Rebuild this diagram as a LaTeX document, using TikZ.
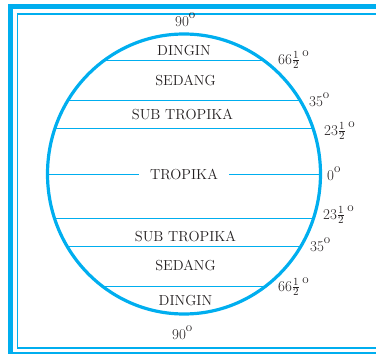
\documentclass[tikz,border=0pt]{standalone}
\definecolor{zonecyan}{HTML}{00AEEF}
\definecolor{zonetext}{HTML}{231F20}
\newcommand{\degsup}{\raisebox{0.5em}{\fontsize{13}{13}\selectfont o}}
\newcommand{\halfdeg}[1]{#1$\frac{1}{2}$\,\degsup}

\begin{document}
\begin{tikzpicture}[x=1pt,y=1pt,font=\fontsize{14.5}{17}\selectfont]
  \tikzstyle{outerframe}=[draw=zonecyan, line width=5pt]
  \tikzstyle{innerframe}=[draw=zonecyan, line width=1.5pt]
  \tikzstyle{globe}=[draw=zonecyan, line width=3.2pt]
  \tikzstyle{chord}=[draw=zonecyan, line width=0.9pt]
  \tikzstyle{zone}=[text=zonetext, inner sep=0pt]
  \tikzstyle{deg}=[text=zonetext, inner sep=0pt, anchor=base west, font=\fontsize{15}{17}\selectfont]

  \path[use as bounding box] (-184,-180) rectangle (192,174);

  % double frame, open on the right
  \draw[outerframe] (200,167.3) -- (-173.5,167.3) -- (-173.5,-180.5) -- (200,-180.5);
  \draw[innerframe] (200,160) -- (-166.3,160) -- (-166.3,-174) -- (200,-174);

  % latitude chords
  \foreach \y/\nm in {114/ndingin,74/nsedang,46/nsub,-44/ssub,-72/ssedang,-112/sdingin} {
    \draw[chord] ({-136.5*sqrt(1-(\y/140)^2)},\y) -- ({136.5*sqrt(1-(\y/140)^2)},\y) coordinate (\nm);
  }
  \draw[chord] (-136.5,0) -- node[zone, fill=white, inner xsep=11pt] (tropika) {TROPIKA} (136.5,0) coordinate (equator);

  % the globe
  \draw[globe] (0,0) ellipse [x radius=136.5, y radius=140];

  % zone names
  \node[zone] (dinginN) at (0,123) {DINGIN};
  \node[zone] (sedangN) at (1.5,94) {SEDANG};
  \node[zone] (subN) at (-1.5,60) {SUB TROPIKA};
  \node[zone] (subS) at (1.5,-62) {SUB TROPIKA};
  \node[zone] (sedangS) at (1.5,-91) {SEDANG};
  \node[zone] (dinginS) at (1.5,-127) {DINGIN};

  % degrees
  \node[deg] (poleN) at (-9,148) {90\degsup};
  \node[deg] (degNd) at (94,110) {\halfdeg{66}};
  \node[deg] (degNs) at (125,68) {35\degsup};
  \node[deg] (degNt) at (140,39) {\halfdeg{23}};
  \node[deg] (degEq) at (143,-6) {0\degsup};
  \node[deg] (degSt) at (139,-45) {\halfdeg{23}};
  \node[deg] (degSs) at (126,-77) {35\degsup};
  \node[deg] (degSd) at (94,-117) {\halfdeg{66}};
  \node[deg] (poleS) at (-12,-165) {90\degsup};
\end{tikzpicture}
\end{document}
